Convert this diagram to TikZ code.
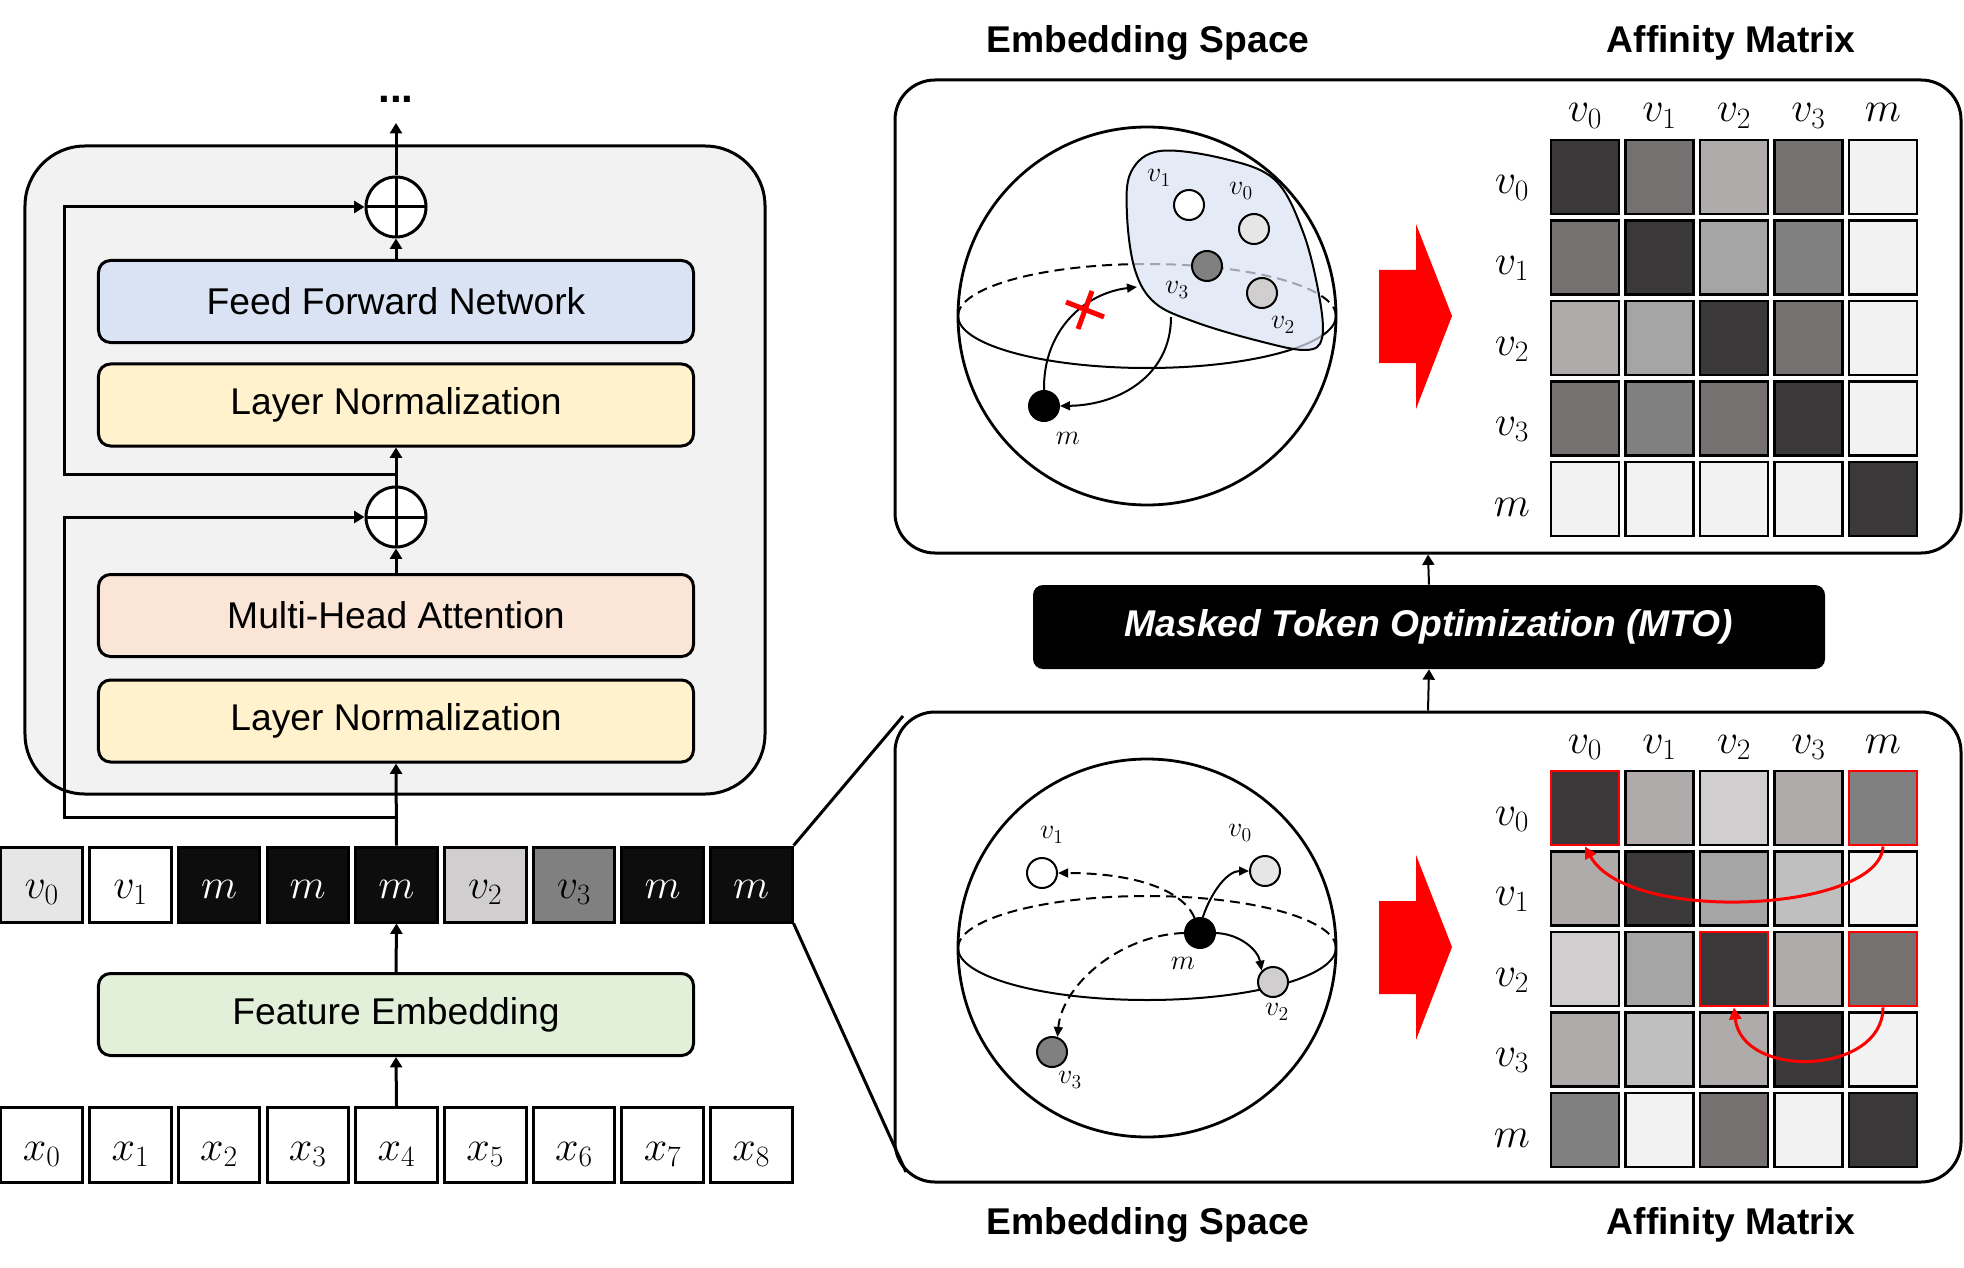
\documentclass[tikz,border=0pt]{standalone}
\usepackage{fix-cm}
\usepackage[no-math]{fontspec}
\setmainfont{Liberation Sans}
\usepackage{tikz}
\usetikzlibrary{arrows.meta,positioning}
\definecolor{encgray}{HTML}{F2F2F2}
\definecolor{ffnblue}{HTML}{DAE3F3}
\definecolor{lnyellow}{HTML}{FFF2CC}
\definecolor{mhapink}{HTML}{FBE5D6}
\definecolor{fegreen}{HTML}{E2F0D9}
\definecolor{mblack}{HTML}{0D0D0D}
\definecolor{g1}{HTML}{3A3838}
\definecolor{g2}{HTML}{767171}
\definecolor{g3}{HTML}{AFABAB}
\definecolor{g4}{HTML}{A5A5A5}
\definecolor{g5}{HTML}{808080}
\definecolor{g6}{HTML}{F2F2F2}
\definecolor{g7}{HTML}{D0CECE}
\definecolor{g8}{HTML}{BFBFBF}
\definecolor{g9}{HTML}{E7E6E6}
\definecolor{hotred}{HTML}{FF0000}

\begin{document}
\begin{tikzpicture}[x=0.25mm,y=-0.25mm,>={Triangle[length=2.6mm,width=3mm]}]%
            \useasboundingbox (0,0) rectangle (1964,1268); %%
            \tikzstyle{txt}=[font=\fontsize{26.5}{30}\selectfont] %%
            \tikzstyle{ttl}=[font=\fontsize{26.5}{30}\selectfont\bfseries,anchor=base] %%
            \tikzstyle{lbl}=[font=\fontsize{30}{34}\selectfont,inner sep=0,anchor=base] %%
            \tikzstyle{slbl}=[font=\fontsize{20}{22}\selectfont,inner sep=0] %%
            \tikzstyle{layer}=[draw,line width=0.75mm,rounded corners=3mm,minimum width=148.75mm,minimum height=20.5mm,txt] %%
            \tikzstyle{addop}=[draw,circle,fill=white,line width=0.75mm,minimum size=15mm,inner sep=0,path picture={\draw[line width=0.75mm] (path picture bounding box.north) -- (path picture bounding box.south) (path picture bounding box.west) -- (path picture bounding box.east);}] %%
            \tikzstyle{tok}=[draw,line width=0.75mm,minimum width=20.4mm,minimum height=18.75mm,inner sep=0,font=\fontsize{30}{34}\selectfont,text height=21pt,text depth=1pt] %%
            \tikzstyle{xtok}=[tok,text height=22pt,text depth=0pt] %%
            \tikzstyle{cell}=[draw,line width=0.7mm,minimum width=17mm,minimum height=18.5mm,inner sep=0] %%
            \tikzstyle{dot}=[draw,circle,line width=0.5mm,minimum size=7.5mm,inner sep=0] %%
            \tikzstyle{panel}=[draw,line width=0.75mm,rounded corners=10mm,minimum width=266.5mm] %%
            \tikzstyle{link}=[line width=0.75mm] %%
            \tikzstyle{slink}=[line width=0.5mm,-{Triangle[length=2.5mm,width=2.2mm]}] %%
            \tikzstyle{redlink}=[line width=0.75mm,hotred,-{Triangle[length=3mm,width=3mm]}] %%
            % transformer block
            \node[draw,line width=0.75mm,rounded corners=15mm,fill=encgray,minimum width=185mm,minimum height=162mm] (enc) at (395,470) {}; %%
            \node[layer,fill=ffnblue] (ffn) at (396,301.5) {Feed Forward Network}; %%
            \node[layer,fill=lnyellow] (ln2) at (396,405) {Layer Normalization}; %%
            \node[layer,fill=mhapink] (mha) at (396,615.5) {Multi-Head Attention}; %%
            \node[layer,fill=lnyellow] (ln1) at (396,721) {Layer Normalization}; %%
            \node[addop] (add2) at (396,207) {}; %%
            \node[addop] (add1) at (396,517) {}; %%
            \node[font=\fontsize{30}{34}\selectfont\bfseries,anchor=base,inner sep=0] (dots) at (396,103) {...}; %%
            \coordinate (out) at (396,123); %%
            \coordinate (res1) at (396,817); %%
            \coordinate (res2) at (396,474); %%
            \node[layer,fill=fegreen] (fe) at (396,1014.5) {Feature Embedding}; %%
            % token rows
            \node[tok,fill=g9] (t0) at (41.7,884.5) {$v_0$}; %%
            \node[tok,fill=white] (t1) at (130.4,884.5) {$v_1$}; %%
            \node[tok,fill=mblack,text=white] (t2) at (219.1,884.5) {$m$}; %%
            \node[tok,fill=mblack,text=white] (t3) at (307.8,884.5) {$m$}; %%
            \node[tok,fill=mblack,text=white] (t4) at (396.5,884.5) {$m$}; %%
            \node[tok,fill=g7] (t5) at (485.2,884.5) {$v_2$}; %%
            \node[tok,fill=g5] (t6) at (573.9,884.5) {$v_3$}; %%
            \node[tok,fill=mblack,text=white] (t7) at (662.6,884.5) {$m$}; %%
            \node[tok,fill=mblack,text=white] (t8) at (751.3,884.5) {$m$}; %%
            \node[xtok] (x0) at (41.7,1145) {$x_0$}; %%
            \node[xtok] (x1) at (130.4,1145) {$x_1$}; %%
            \node[xtok] (x2) at (219.1,1145) {$x_2$}; %%
            \node[xtok] (x3) at (307.8,1145) {$x_3$}; %%
            \node[xtok] (x4) at (396.5,1145) {$x_4$}; %%
            \node[xtok] (x5) at (485.2,1145) {$x_5$}; %%
            \node[xtok] (x6) at (573.9,1145) {$x_6$}; %%
            \node[xtok] (x7) at (662.6,1145) {$x_7$}; %%
            \node[xtok] (x8) at (751.3,1145) {$x_8$}; %%
            \draw[->,link] (x4.north) -- (fe.south); %%
            \draw[->,link] (fe.north) -- (t4.south); %%
            \draw[->,link] (t4.north) -- (ln1.south); %%
            \draw[->,link] (mha.north) -- (add1.south); %%
            \draw[->,link] (add1.north) -- (ln2.south); %%
            \draw[->,link] (ffn.north) -- (add2.south); %%
            \draw[->,link] (add2.north) -- (out); %%
            \draw[->,link] (res1) -- (64,817) |- (add1.west); %%
            \draw[->,link] (res2) -- (64,474) |- (add2.west); %%
            % panels
            \node[panel,minimum height=118.25mm] (toppanel) at (1428,316.5) {}; %%
            \node[panel,minimum height=117.5mm] (botpanel) at (1428,947) {}; %%
            \node[fill=black,rounded corners=2.5mm,minimum width=198mm,minimum height=21mm,text=white,font=\fontsize{26.5}{30}\selectfont\bfseries\itshape] (mto) at (1429,627) {Masked Token Optimization (MTO)}; %%
            \draw[line width=0.5mm,->] (botpanel.north) -- (mto.south); %%
            \draw[line width=0.5mm,->] (mto.north) -- (toppanel.south); %%
            \coordinate (zoomtop) at (903,716); %%
            \coordinate (zoombot) at (906,1172); %%
            \draw[link] (t8.north east) -- (zoomtop); %%
            \draw[link] (t8.south east) -- (zoombot); %%
            \node[ttl] (ttl1) at (1148,53) {Embedding Space}; %%
            \node[ttl] (ttl2) at (1731,53) {Affinity Matrix}; %%
            \node[ttl] (ttl3) at (1148,1234) {Embedding Space}; %%
            \node[ttl] (ttl4) at (1731,1234) {Affinity Matrix}; %%
            % top sphere
            \draw[line width=0.7mm] (1147,316) circle (189); %%
            \draw[line width=0.5mm] (1336,316) arc[start angle=0,end angle=180,x radius=189,y radius=52]; %%
            \draw[line width=0.5mm,dash pattern=on 2.5mm off 1.5mm] (958,316) arc[start angle=180,end angle=360,x radius=189,y radius=52]; %%
            \draw[line width=0.5mm,fill=ffnblue,fill opacity=0.72] plot[smooth cycle,tension=0.6] coordinates {(1131,172) (1160,151) (1225,159) (1275,180) (1303,232) (1319,295) (1322,338) (1305,350) (1255,340) (1195,322) (1155,303) (1135,270) (1127,215)}; %%
            \node[dot,fill=white] (tv1) at (1189,205) {}; %%
            \node[dot,fill=g9] (tv0) at (1254,229) {}; %%
            \node[dot,fill=g5] (tv3) at (1207,266) {}; %%
            \node[dot,fill=g7] (tv2) at (1262,293) {}; %%
            \node[dot,fill=black] (tm) at (1044,406) {}; %%
            \node[slbl] (tlv1) at (1159,178) {$v_1$}; %%
            \node[slbl] (tlv0) at (1241,191) {$v_0$}; %%
            \node[slbl] (tlv3) at (1177,290) {$v_3$}; %%
            \node[slbl] (tlv2) at (1283,325) {$v_2$}; %%
            \node[slbl] (tlm) at (1068,438) {$m$}; %%
            \coordinate (blobw) at (1137,287); %%
            \coordinate (blobs) at (1171,317); %%
            \draw[slink] (tm.north) .. controls (1043,330) and (1085,293) .. (blobw); %%
            \draw[slink] (blobs) .. controls (1171,375) and (1120,405) .. (tm.east); %%
            \draw[hotred,line width=1.25mm] (1066,302) -- (1104,317) (1092,291) -- (1078,329); %%
            \fill[hotred] (1379,270) -- (1416,270) -- (1416,224) -- (1452,316) -- (1416,409) -- (1416,363) -- (1379,363) -- cycle; %%
            % bottom sphere
            \draw[line width=0.7mm] (1147,948) circle (189); %%
            \draw[line width=0.5mm] (1336,948) arc[start angle=0,end angle=180,x radius=189,y radius=52]; %%
            \draw[line width=0.5mm,dash pattern=on 2.5mm off 1.5mm] (958,948) arc[start angle=180,end angle=360,x radius=189,y radius=52]; %%
            \node[dot,fill=white] (bv1) at (1042,873) {}; %%
            \node[dot,fill=g9] (bv0) at (1265,871) {}; %%
            \node[dot,fill=g7] (bv2) at (1273,982) {}; %%
            \node[dot,fill=g5] (bv3) at (1052,1052) {}; %%
            \node[dot,fill=black] (bm) at (1200,933) {}; %%
            \node[slbl] (blv1) at (1052,835) {$v_1$}; %%
            \node[slbl] (blv0) at (1240,833) {$v_0$}; %%
            \node[slbl] (blm) at (1183,963) {$m$}; %%
            \node[slbl] (blv2) at (1277,1012) {$v_2$}; %%
            \node[slbl] (blv3) at (1070,1080) {$v_3$}; %%
            \draw[slink] (bm.80) .. controls (1212,890) and (1228,871) .. (bv0.west); %%
            \draw[slink] (bm.east) .. controls (1240,934) and (1258,950) .. (bv2.135); %%
            \draw[slink,dash pattern=on 2.5mm off 1.5mm] (bm.110) .. controls (1182,888) and (1130,873) .. (bv1.east); %%
            \draw[slink,dash pattern=on 2.5mm off 1.5mm] (bm.west) .. controls (1120,935) and (1062,985) .. (bv3.70); %%
            \fill[hotred] (1379,901) -- (1416,901) -- (1416,855) -- (1452,947) -- (1416,1040) -- (1416,994) -- (1379,994) -- cycle; %%
            % top affinity matrix
            \node[lbl] (ac0) at (1585,122) {$v_0$}; %%
            \node[lbl] (ac1) at (1659.5,122) {$v_1$}; %%
            \node[lbl] (ac2) at (1734,122) {$v_2$}; %%
            \node[lbl] (ac3) at (1808.5,122) {$v_3$}; %%
            \node[lbl] (ac4) at (1883,122) {$m$}; %%
            \node[lbl] (ar0) at (1512,194) {$v_0$}; %%
            \node[lbl] (ar1) at (1512,274.5) {$v_1$}; %%
            \node[lbl] (ar2) at (1512,355) {$v_2$}; %%
            \node[lbl] (ar3) at (1512,435.5) {$v_3$}; %%
            \node[lbl] (ar4) at (1512,516) {$m$}; %%
            \node[cell,fill=g1] (a00) at (1585,177) {}; %%
            \node[cell,fill=g2] (a01) at (1659.5,177) {}; %%
            \node[cell,fill=g3] (a02) at (1734,177) {}; %%
            \node[cell,fill=g2] (a03) at (1808.5,177) {}; %%
            \node[cell,fill=g6] (a04) at (1883,177) {}; %%
            \node[cell,fill=g2] (a10) at (1585,257.5) {}; %%
            \node[cell,fill=g1] (a11) at (1659.5,257.5) {}; %%
            \node[cell,fill=g4] (a12) at (1734,257.5) {}; %%
            \node[cell,fill=g5] (a13) at (1808.5,257.5) {}; %%
            \node[cell,fill=g6] (a14) at (1883,257.5) {}; %%
            \node[cell,fill=g3] (a20) at (1585,338) {}; %%
            \node[cell,fill=g4] (a21) at (1659.5,338) {}; %%
            \node[cell,fill=g1] (a22) at (1734,338) {}; %%
            \node[cell,fill=g2] (a23) at (1808.5,338) {}; %%
            \node[cell,fill=g6] (a24) at (1883,338) {}; %%
            \node[cell,fill=g2] (a30) at (1585,418.5) {}; %%
            \node[cell,fill=g5] (a31) at (1659.5,418.5) {}; %%
            \node[cell,fill=g2] (a32) at (1734,418.5) {}; %%
            \node[cell,fill=g1] (a33) at (1808.5,418.5) {}; %%
            \node[cell,fill=g6] (a34) at (1883,418.5) {}; %%
            \node[cell,fill=g6] (a40) at (1585,499) {}; %%
            \node[cell,fill=g6] (a41) at (1659.5,499) {}; %%
            \node[cell,fill=g6] (a42) at (1734,499) {}; %%
            \node[cell,fill=g6] (a43) at (1808.5,499) {}; %%
            \node[cell,fill=g1] (a44) at (1883,499) {}; %%
            % bottom affinity matrix
            \node[lbl] (bc0) at (1585,753) {$v_0$}; %%
            \node[lbl] (bc1) at (1659.5,753) {$v_1$}; %%
            \node[lbl] (bc2) at (1734,753) {$v_2$}; %%
            \node[lbl] (bc3) at (1808.5,753) {$v_3$}; %%
            \node[lbl] (bc4) at (1883,753) {$m$}; %%
            \node[lbl] (br0) at (1512,825) {$v_0$}; %%
            \node[lbl] (br1) at (1512,905.5) {$v_1$}; %%
            \node[lbl] (br2) at (1512,986) {$v_2$}; %%
            \node[lbl] (br3) at (1512,1066.5) {$v_3$}; %%
            \node[lbl] (br4) at (1512,1147) {$m$}; %%
            \node[cell,fill=g1,draw=hotred] (b00) at (1585,808) {}; %%
            \node[cell,fill=g3] (b01) at (1659.5,808) {}; %%
            \node[cell,fill=g7] (b02) at (1734,808) {}; %%
            \node[cell,fill=g3] (b03) at (1808.5,808) {}; %%
            \node[cell,fill=g5,draw=hotred] (b04) at (1883,808) {}; %%
            \node[cell,fill=g3] (b10) at (1585,888.5) {}; %%
            \node[cell,fill=g1] (b11) at (1659.5,888.5) {}; %%
            \node[cell,fill=g4] (b12) at (1734,888.5) {}; %%
            \node[cell,fill=g8] (b13) at (1808.5,888.5) {}; %%
            \node[cell,fill=g6] (b14) at (1883,888.5) {}; %%
            \node[cell,fill=g7] (b20) at (1585,969) {}; %%
            \node[cell,fill=g4] (b21) at (1659.5,969) {}; %%
            \node[cell,fill=g1,draw=hotred] (b22) at (1734,969) {}; %%
            \node[cell,fill=g3] (b23) at (1808.5,969) {}; %%
            \node[cell,fill=g2,draw=hotred] (b24) at (1883,969) {}; %%
            \node[cell,fill=g3] (b30) at (1585,1049.5) {}; %%
            \node[cell,fill=g8] (b31) at (1659.5,1049.5) {}; %%
            \node[cell,fill=g3] (b32) at (1734,1049.5) {}; %%
            \node[cell,fill=g1] (b33) at (1808.5,1049.5) {}; %%
            \node[cell,fill=g6] (b34) at (1883,1049.5) {}; %%
            \node[cell,fill=g5] (b40) at (1585,1130) {}; %%
            \node[cell,fill=g6] (b41) at (1659.5,1130) {}; %%
            \node[cell,fill=g2] (b42) at (1734,1130) {}; %%
            \node[cell,fill=g6] (b43) at (1808.5,1130) {}; %%
            \node[cell,fill=g1] (b44) at (1883,1130) {}; %%
            \draw[redlink] (b04.south) .. controls (1880,912) and (1628,925) .. (b00.south); %%
            \draw[redlink] (b24.south) .. controls (1883,1075) and (1742,1080) .. (b22.south); %%
        \end{tikzpicture}
\end{document}
